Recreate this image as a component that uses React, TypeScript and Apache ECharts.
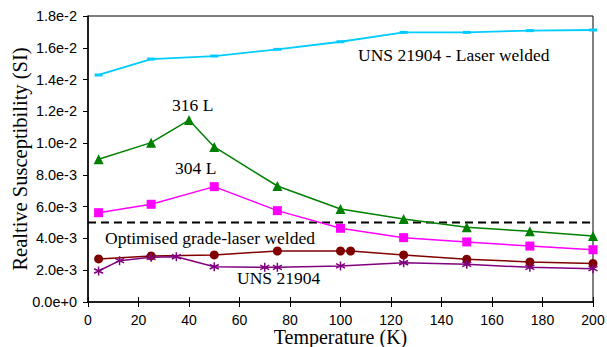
import React, { useEffect, useRef } from "react";
import * as echarts from "echarts";

const laserX = [4.2, 25, 50, 75, 100, 125, 150, 175, 200];
const laserY = [0.01429, 0.01529, 0.01548, 0.0159, 0.01638, 0.01697, 0.01697, 0.01708, 0.01712];

const l316X = [4.2, 25, 40, 50, 75, 100, 125, 150, 175, 200];
const l316Y = [0.00898, 0.01003, 0.01145, 0.00976, 0.0073, 0.00585, 0.00522, 0.0047, 0.00445, 0.00415];

const l304X = [4.2, 25, 50, 75, 100, 125, 150, 175, 200];
const l304Y = [0.00562, 0.00615, 0.00726, 0.00575, 0.00464, 0.00405, 0.00378, 0.00352, 0.00329];

const optX = [4.2, 25, 50, 75, 100, 104, 125, 150, 175, 200];
const optY = [0.00271, 0.0029, 0.00296, 0.00321, 0.00321, 0.00321, 0.00296, 0.00269, 0.00252, 0.00243];

const unsX = [4.2, 12.5, 25, 35, 50, 70, 75, 100, 125, 150, 175, 200];
const unsY = [0.00195, 0.0026, 0.00281, 0.00285, 0.00222, 0.00218, 0.00218, 0.00227, 0.00247, 0.00237, 0.00218, 0.0021];

const limitX = [0, 200];
const limitY = [0.005, 0.005];

const pair = (xs: number[], ys: number[]) => xs.map((x, i) => [x, ys[i]]);

const SERIF = "Liberation Serif";
const SANS = "Liberation Sans";

const asterisk = "path://M0,-5L0,5M-4.33,-2.5L4.33,2.5M-4.33,2.5L4.33,-2.5";

export default function App() {
  const ref = useRef<HTMLDivElement>(null);
  useEffect(() => {
    if (!ref.current) return;
    const chart = echarts.init(ref.current, null, { renderer: "svg" });
    const textStyle = (x: number, y: number, text: string) => ({
      type: "text",
      x,
      y,
      style: { text, font: `17.5px "${SERIF}"`, fill: "#000", textAlign: "left", textVerticalAlign: "middle" },
    });
    chart.setOption({
      animation: false,
      backgroundColor: "#fff",
      grid: {
        left: 88,
        top: 16,
        right: 14,
        bottom: 45,
        show: true,
        borderColor: "#000",
        borderWidth: 1,
        containLabel: false,
        outerBoundsMode: "none",
      },
      xAxis: [
        {
          type: "value",
          min: 0,
          max: 200,
          interval: 20,
          name: "Temperature (K)",
          nameLocation: "middle",
          nameGap: 25,
          nameMoveOverlap: false,
          nameTextStyle: { fontFamily: SERIF, fontSize: 20, color: "#000" },
          axisLine: { lineStyle: { color: "#000", width: 1.5 } },
          axisTick: { show: true, length: 5, lineStyle: { color: "#000" } },
          axisLabel: { fontFamily: SANS, fontSize: 14, color: "#000", margin: 11 },
          splitLine: { show: false },
        },
        {
          type: "value",
          min: 0,
          max: 200,
          interval: 20,
          position: "bottom",
          axisLine: { show: false },
          axisTick: { show: true, inside: true, length: 5, lineStyle: { color: "#000" } },
          axisLabel: { show: false },
          splitLine: { show: false },
        },
      ],
      yAxis: {
        type: "value",
        min: 0,
        max: 0.018,
        interval: 0.002,
        name: "Realtive Susceptibility (SI)",
        nameLocation: "middle",
        nameGap: 58,
        nameMoveOverlap: false,
        nameTextStyle: { fontFamily: SERIF, fontSize: 20.5, color: "#000" },
        axisLine: { show: true, lineStyle: { color: "#000", width: 1.5 } },
        axisTick: { show: true, length: 5, lineStyle: { color: "#000" } },
        axisLabel: {
          fontFamily: SANS,
          fontSize: 14.5,
          color: "#000",
          margin: 11,
          formatter: (v: number) => v.toExponential(1),
        },
        splitLine: { show: false },
      },
      series: [
        {
          name: "Limit",
          type: "line",
          data: pair(limitX, limitY),
          symbol: "none",
          lineStyle: { color: "#000", width: 2, type: [8, 5] },
          z: 1,
        },
        {
          name: "UNS 21904 - Laser welded",
          type: "line",
          data: pair(laserX, laserY),
          symbol: "rect",
          symbolSize: [8, 3],
          itemStyle: { color: "#00CCFF" },
          lineStyle: { color: "#00CCFF", width: 1.8 },
        },
        {
          name: "316 L",
          type: "line",
          data: pair(l316X, l316Y),
          symbol: "triangle",
          symbolSize: 10,
          itemStyle: { color: "#008000" },
          lineStyle: { color: "#008000", width: 1.5 },
        },
        {
          name: "304 L",
          type: "line",
          data: pair(l304X, l304Y),
          symbol: "rect",
          symbolSize: 9,
          itemStyle: { color: "#FF00FF" },
          lineStyle: { color: "#FF00FF", width: 1.5 },
        },
        {
          name: "Optimised grade-laser welded",
          type: "line",
          data: pair(optX, optY),
          symbol: "circle",
          symbolSize: 9,
          itemStyle: { color: "#800000" },
          lineStyle: { color: "#800000", width: 1.5 },
        },
        {
          name: "UNS 21904",
          type: "line",
          data: pair(unsX, unsY),
          symbol: asterisk,
          symbolSize: 9,
          itemStyle: { color: "#800080", borderColor: "#800080", borderWidth: 1.5 },
          lineStyle: { color: "#800080", width: 1.5 },
        },
      ],
      graphic: [
        textStyle(358, 55, "UNS 21904 - Laser welded"),
        textStyle(172, 105, "316 L"),
        textStyle(175, 168, "304 L"),
        textStyle(105, 238, "Optimised grade-laser welded"),
        textStyle(237, 278, "UNS 21904"),
      ],
    });
    return () => chart.dispose();
  }, []);
  return <div ref={ref} style={{ width: 607, height: 347, position: "absolute", left: 0, top: 0 }} />;
}
